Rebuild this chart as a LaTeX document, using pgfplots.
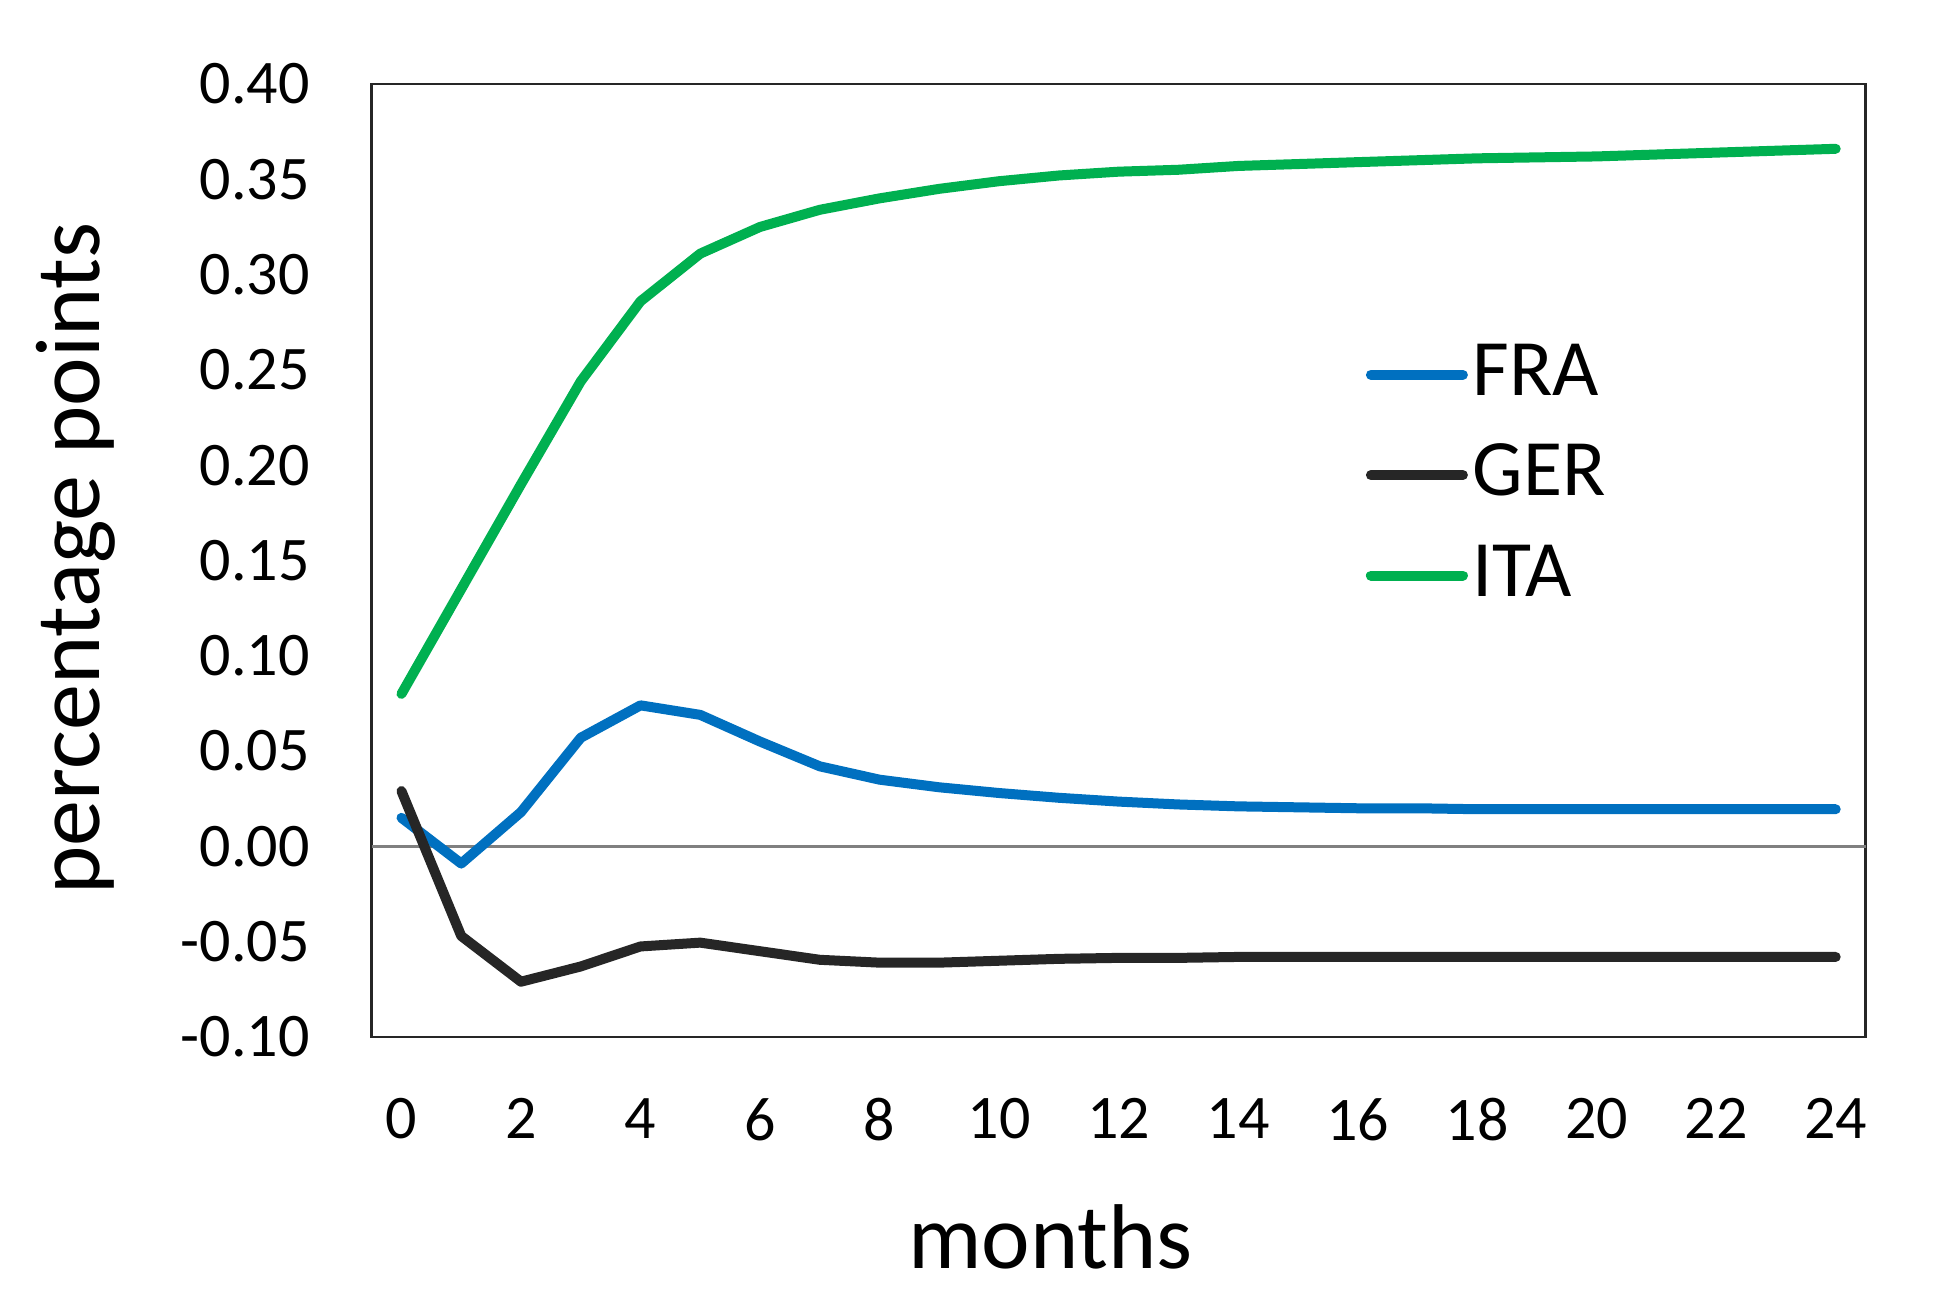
\documentclass[border=0pt]{standalone}
\usepackage{pgfplots}
\pgfplotsset{compat=1.18}
\usepackage{fontspec}
\setmainfont{Carlito}
\definecolor{fra}{HTML}{0070C0}
\definecolor{ger}{HTML}{262626}
\definecolor{ita}{HTML}{00B050}
\definecolor{axc}{HTML}{262626}
\begin{document}
\begin{tikzpicture}
\useasboundingbox (-92.9pt,-66pt) rectangle ++(486.5pt,325.25pt);
\begin{axis}[
  at={(0,0)}, anchor=south west,
  scale only axis, width=373.5pt, height=238.25pt,
  xmin=-0.5, xmax=24.5, ymin=-0.1, ymax=0.4,
  xtick={0,2,...,24},
  ytick={-0.1,-0.05,0,0.05,0.1,0.15,0.2,0.25,0.3,0.35,0.4},
  tick style={draw=none},
  axis line style={draw=axc, line width=0.7pt},
  /pgf/number format/assume math mode=true,
  ticklabel style={font=\fontsize{15.5}{18}\selectfont},
  yticklabel={\pgfmathprintnumber[fixed, fixed zerofill, precision=2]{\tick}},
  xticklabel={\pgfmathprintnumber[fixed, precision=0]{\tick}},
  yticklabel style={anchor=east, xshift=-11.9pt},
  xticklabel style={anchor=north, yshift=-11.8pt},
  extra y ticks={0}, extra y tick labels={},
  extra y tick style={grid=major, major grid style={draw=gray, line width=0.65pt}},
  xlabel={months}, ylabel={percentage points},
  label style={font=\fontsize{23}{27}\selectfont},
  xlabel style={at={(axis description cs:0.4544,0)}, anchor=base, yshift=-58pt},
  ylabel style={at={([xshift=-68.1pt]axis description cs:0,0.502)}, rotate=0, anchor=base},
  legend style={at={(axis description cs:0.665,0.595)}, anchor=west, draw=none, fill=none,
    font=\fontsize{20}{24}\selectfont, inner sep=0pt, row sep=12.1pt,
    nodes={inner sep=0pt, text height=13pt, text depth=0pt},
    /tikz/every odd column/.append style={column sep=1.2pt}},
  legend cell align=left,
  legend image code/.code={\draw[#1] (0pt,-1.3pt) -- (23pt,-1.3pt);},
  every axis plot/.append style={line width=2.5pt, line join=round, line cap=round},
]
\addplot[fra] coordinates {
(0,0.015) (1,-0.009) (2,0.018) (3,0.057) (4,0.074) (5,0.069) (6,0.055) (7,0.042) (8,0.035) (9,0.031) (10,0.028) (11,0.0255) (12,0.0235) (13,0.022) (14,0.021) (15,0.0205) (16,0.020) (17,0.020) (18,0.0195) (19,0.0195) (20,0.0195) (21,0.0195) (22,0.0195) (23,0.0195) (24,0.0195)};
\addlegendentry{FRA}
\addplot[ger] coordinates {
(0,0.029) (1,-0.047) (2,-0.071) (3,-0.063) (4,-0.0525) (5,-0.0505) (6,-0.055) (7,-0.0595) (8,-0.061) (9,-0.061) (10,-0.060) (11,-0.059) (12,-0.0585) (13,-0.0585) (14,-0.058) (15,-0.058) (16,-0.058) (17,-0.058) (18,-0.058) (19,-0.058) (20,-0.058) (21,-0.058) (22,-0.058) (23,-0.058) (24,-0.058)};
\addlegendentry{GER}
\addplot[ita] coordinates {
(0,0.080) (1,0.135) (2,0.190) (3,0.244) (4,0.286) (5,0.311) (6,0.325) (7,0.334) (8,0.340) (9,0.345) (10,0.349) (11,0.352) (12,0.354) (13,0.355) (14,0.357) (15,0.358) (16,0.359) (17,0.360) (18,0.361) (19,0.3615) (20,0.362) (21,0.363) (22,0.364) (23,0.365) (24,0.366)};
\addlegendentry{ITA}
\end{axis}
\end{tikzpicture}
\end{document}
